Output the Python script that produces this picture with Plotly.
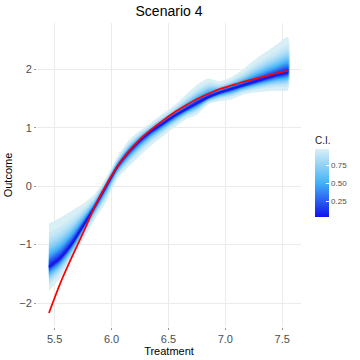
import plotly.graph_objects as go
from plotly.colors import sample_colorscale
from statistics import NormalDist

# treatment grid
treatment = [5.45, 5.55, 5.65, 5.75, 5.85, 5.95, 6.05, 6.15, 6.25, 6.35, 6.45,
             6.55, 6.65, 6.75, 6.85, 6.95, 7.05, 7.15, 7.25, 7.35, 7.45, 7.55]

# true curve (red)
truth = [-2.17, -1.66, -1.22, -0.80, -0.36, 0.01, 0.33, 0.59, 0.80, 0.97, 1.12,
         1.26, 1.38, 1.49, 1.58, 1.66, 1.72, 1.78, 1.83, 1.88, 1.93, 1.97]

# estimated curve (centre of the bands)
estimate = [-1.38, -1.23, -0.99, -0.68, -0.36, -0.01, 0.33, 0.58, 0.78, 0.94, 1.07,
            1.20, 1.31, 1.42, 1.52, 1.60, 1.66, 1.72, 1.78, 1.84, 1.90, 1.95]

# outermost interval (level 0.98)
outer_upper = [-0.64, -0.54, -0.42, -0.30, -0.14, 0.14, 0.50, 0.78, 0.95, 1.09, 1.24,
               1.38, 1.56, 1.73, 1.84, 1.79, 1.86, 1.99, 2.15, 2.29, 2.42, 2.55]
outer_lower = [-1.79, -1.57, -1.27, -0.93, -0.58, -0.28, 0.12, 0.33, 0.52, 0.70, 0.85,
               1.00, 1.14, 1.22, 1.40, 1.45, 1.48, 1.56, 1.60, 1.62, 1.63, 1.64]

# interval levels, widest first
levels = [0.98, 0.93, 0.88, 0.83, 0.78, 0.73, 0.68, 0.63, 0.58, 0.53,
          0.48, 0.43, 0.38, 0.33, 0.28, 0.23, 0.18, 0.13, 0.08, 0.03]

ci_min, ci_max = 0.03, 0.98
scale = [[0.0, "#1212ec"], [0.5, "#42b2f8"], [1.0, "#d9eff6"]]

nd = NormalDist()
z_outer = nd.inv_cdf((1 + levels[0]) / 2)

fig = go.Figure()

for lv in levels:
    k = nd.inv_cdf((1 + lv) / 2) / z_outer
    up = [m + (u - m) * k for m, u in zip(estimate, outer_upper)]
    lo = [m - (m - l) * k for m, l in zip(estimate, outer_lower)]
    col = sample_colorscale(scale, [(lv - ci_min) / (ci_max - ci_min)])[0]
    fig.add_trace(go.Scatter(
        x=treatment + treatment[::-1],
        y=up + lo[::-1],
        fill="toself",
        fillcolor=col,
        line=dict(width=0, shape="spline", smoothing=0.6),
        mode="lines",
        hoverinfo="skip",
        showlegend=False,
    ))

fig.add_trace(go.Scatter(
    x=treatment, y=estimate, mode="lines",
    line=dict(color="#1a1ae6", width=2, shape="spline", smoothing=0.6),
    showlegend=False,
))

fig.add_trace(go.Scatter(
    x=treatment, y=truth, mode="lines",
    line=dict(color="#ff0000", width=1.7, shape="spline", smoothing=0.6),
    showlegend=False,
))

# colour bar
fig.add_trace(go.Scatter(
    x=[None], y=[None], mode="markers",
    marker=dict(
        color=[ci_min], colorscale=scale, cmin=ci_min, cmax=ci_max, showscale=True,
        colorbar=dict(
            title=dict(text="C.I.", side="top", font=dict(size=10, color="#1a1a1a")),
            x=1.053, xanchor="left", xpad=0,
            y=0.638, yanchor="top", ypad=0,
            thickness=14, len=84, lenmode="pixels",
            outlinewidth=0,
            tickvals=[0.25, 0.5, 0.75], ticktext=["0.25", "0.50", "0.75"],
            ticks="inside", ticklen=3, tickcolor="white",
            tickfont=dict(size=8, color="#4d4d4d"),
        ),
    ),
    showlegend=False,
))

fig.update_layout(
    width=360, height=360,
    margin=dict(l=37, r=59, t=23, b=33, autoexpand=False),
    paper_bgcolor="white", plot_bgcolor="white",
    font=dict(family="Liberation Sans, Arial, sans-serif", color="#1a1a1a"),
    title=dict(text="Scenario 4", x=0.5, xref="paper", y=0.97, yref="container",
               yanchor="middle", font=dict(size=14, color="black")),
    xaxis=dict(
        title=dict(text="Treatment", font=dict(size=11, color="black"), standoff=1),
        range=[5.345, 7.665], tickvals=[5.5, 6.0, 6.5, 7.0, 7.5],
        ticktext=["5.5", "6.0", "6.5", "7.0", "7.5"],
        showgrid=True, gridcolor="#ebebeb", gridwidth=1, zeroline=False,
        ticks="outside", ticklen=2, tickcolor="#999999", automargin=False,
        tickfont=dict(size=11, color="#4d4d4d"), showline=False,
    ),
    yaxis=dict(
        title=dict(text="Outcome", font=dict(size=11, color="black"), standoff=4),
        range=[-2.41, 2.79], tickvals=[-2, -1, 0, 1, 2],
        ticktext=["\u22122", "\u22121", "0", "1", "2"],
        showgrid=True, gridcolor="#ebebeb", gridwidth=1, zeroline=False,
        ticks="outside", ticklen=2, tickcolor="#999999", automargin=False,
        tickfont=dict(size=11, color="#4d4d4d"), showline=False,
    ),
)

fig.write_html("out.html", config={"displayModeBar": False},
               post_script="document.body.style.margin='0px';")
